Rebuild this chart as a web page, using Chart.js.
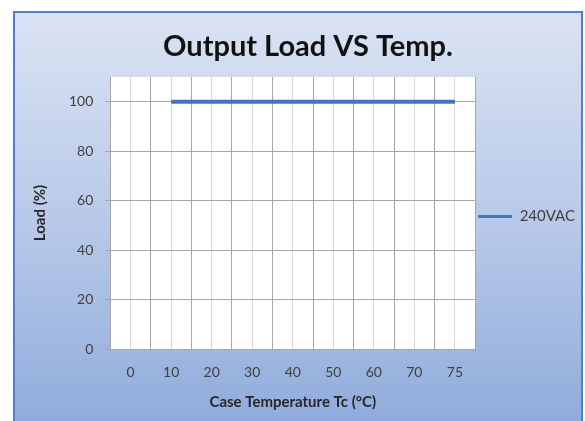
<!DOCTYPE html>
<html>
<head>
<meta charset="utf-8">
<script src="https://cdn.jsdelivr.net/npm/chart.js@4"></script>
<style>
  html, body { margin: 0; padding: 0; background: #fff; }
  #wrap { position: relative; width: 585px; height: 421px; overflow: hidden; }
  #card {
    position: absolute; left: 13px; top: 11px; width: 566px; height: 420px;
    border: 2px solid #4f7fcf; border-bottom: none;
    background: linear-gradient(to bottom, #dae3f3 0%, #b4c6e7 55%, #8eaadb 100%);
  }
  canvas { position: absolute; left: 0; top: 0; }
</style>
</head>
<body>
<div id="wrap">
  <div id="card"></div>
  <canvas id="c" width="585" height="421"></canvas>
</div>
<script>
const temps = ["0", "10", "20", "30", "40", "50", "60", "70", "75"];
const load240 = [null, 100, 100, 100, 100, 100, 100, 100, 100];
const yTicks = [0, 20, 40, 60, 80, 100];

const plotBg = {
    id: "plotBg",
    beforeDraw(chart) {
        const { ctx, chartArea: a } = chart;
        ctx.save();
        ctx.fillStyle = "#ffffff";
        ctx.fillRect(a.left, a.top, a.right - a.left, a.bottom - a.top);
        ctx.restore();
    }
};

const ctx = document.getElementById("c").getContext("2d");

new Chart(ctx, {
    type: "line",
    data: {
        labels: temps,
        datasets: [{
            label: "240VAC",
            data: load240,
            borderColor: "#4472c4",
            backgroundColor: "#4472c4",
            borderWidth: 4,
            pointRadius: 0,
            tension: 0
        }]
    },
    options: {
        responsive: false,
        animation: false,
        layout: { padding: { top: 20, left: 31, right: 0, bottom: 8 } },
        scales: {
            x: {
                offset: true,
                grid: { offset: true, color: "#a6a6a6", drawTicks: false },
                border: { color: "#a6a6a6" },
                ticks: { color: "#404040", font: { family: "Lato", size: 14, lineHeight: 1 }, padding: 16 },
                title: {
                    display: true,
                    text: "Case Temperature Tc (°C)",
                    color: "#262626",
                    font: { family: "Lato", size: 15, weight: "bold" },
                    padding: { top: -2, bottom: 2 }
                }
            },
            x2: {
                position: "top",
                offset: true,
                labels: temps,
                grid: { offset: false, color: "#d9d9d9", drawTicks: false },
                border: { display: false },
                ticks: { display: false }
            },
            y: {
                min: 0,
                max: 110,
                afterBuildTicks: axis => { axis.ticks = yTicks.map(v => ({ value: v })); },
                grid: { color: "#a6a6a6", tickLength: 5 },
                border: { color: "#a6a6a6" },
                ticks: { color: "#404040", font: { family: "Lato", size: 14 }, padding: 12 },
                title: {
                    display: true,
                    text: "Load (%)",
                    color: "#262626",
                    font: { family: "Lato", size: 15, weight: "bold" },
                    padding: { top: 0, bottom: 8 }
                }
            }
        },
        plugins: {
            title: {
                display: true,
                text: "Output Load VS Temp.",
                color: "#111111",
                font: { family: "Lato", size: 29, weight: "bold" },
                padding: { top: 9.6, bottom: 12.6 }
            },
            legend: {
                position: "right",
                labels: {
                    boxWidth: 34,
                    boxHeight: 3,
                    color: "#404040",
                    font: { family: "Lato", size: 15 },
                    padding: 3,
                    generateLabels: chart => Chart.defaults.plugins.legend.labels.generateLabels(chart)
                        .map(item => ({ ...item, lineWidth: 0 }))
                }
            },
            tooltip: { enabled: false }
        }
    },
    plugins: [plotBg]
});
</script>
</body>
</html>
